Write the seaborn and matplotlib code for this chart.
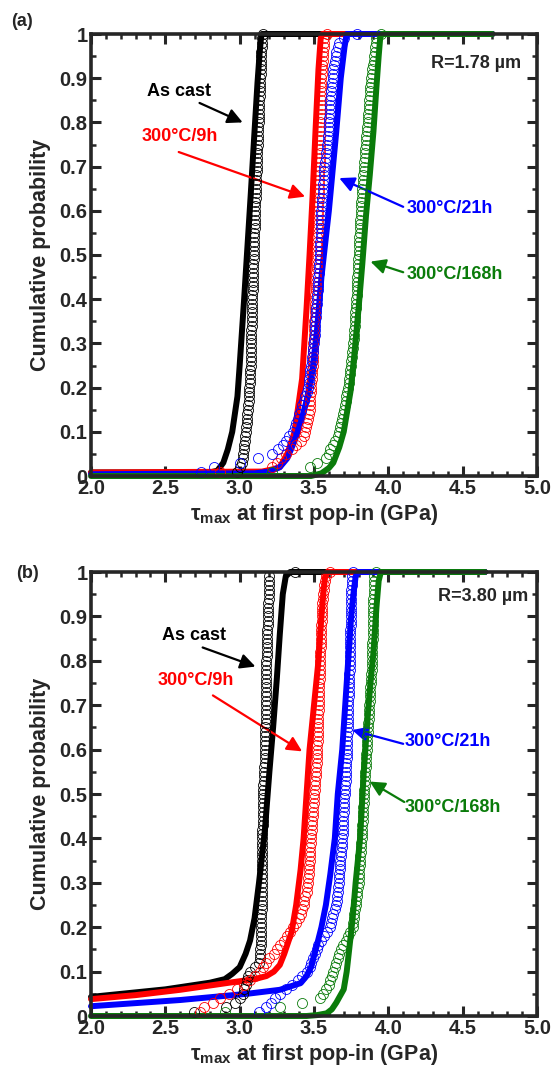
import matplotlib
matplotlib.use("Agg")
import matplotlib.pyplot as plt
import seaborn as sns
from matplotlib.ticker import MultipleLocator, FixedLocator, FixedFormatter

# ---------------- data ----------------
labels = ["As cast", "300°C/9h", "300°C/21h", "300°C/168h"]
colors = ["#000000", "#FF0000", "#0000FF", "#0A7B0A"]

# panel (a), R = 1.78 um : tau_max at first pop-in (GPa), one value per indent
a_cast = [2.98, 3.00, 3.015, 3.02, 3.025, 3.028, 3.031, 3.034, 3.037, 3.040,
          3.043, 3.046, 3.049, 3.052, 3.055, 3.057, 3.060, 3.062, 3.064, 3.066,
          3.068, 3.070, 3.071, 3.072, 3.073, 3.073, 3.074, 3.075, 3.076, 3.077,
          3.077, 3.078, 3.079, 3.080, 3.081, 3.082, 3.082, 3.083, 3.084, 3.085,
          3.086, 3.087, 3.088, 3.089, 3.090, 3.091, 3.092, 3.093, 3.094, 3.095,
          3.096, 3.097, 3.098, 3.098, 3.099, 3.100, 3.101, 3.102, 3.103, 3.104,
          3.105, 3.106, 3.107, 3.108, 3.110, 3.111, 3.112, 3.113, 3.114, 3.115,
          3.116, 3.117, 3.118, 3.119, 3.120, 3.122, 3.123, 3.125, 3.126, 3.127,
          3.128, 3.129, 3.130, 3.131, 3.132, 3.134, 3.135, 3.137, 3.138, 3.140,
          3.141, 3.142, 3.143, 3.144, 3.145, 3.146, 3.147, 3.148, 3.150, 3.160]
a_9h = [2.87, 3.22, 3.25, 3.28, 3.31, 3.35, 3.38, 3.41, 3.43, 3.44,
        3.446, 3.452, 3.458, 3.464, 3.470, 3.472, 3.474, 3.476, 3.478, 3.480,
        3.482, 3.484, 3.486, 3.488, 3.490, 3.491, 3.492, 3.494, 3.495, 3.496,
        3.497, 3.499, 3.500, 3.501, 3.502, 3.504, 3.505, 3.506, 3.507, 3.509,
        3.510, 3.511, 3.512, 3.514, 3.515, 3.516, 3.517, 3.518, 3.519, 3.520,
        3.521, 3.522, 3.522, 3.523, 3.524, 3.525, 3.526, 3.527, 3.528, 3.529,
        3.530, 3.530, 3.531, 3.532, 3.533, 3.534, 3.535, 3.535, 3.536, 3.537,
        3.537, 3.538, 3.539, 3.539, 3.540, 3.541, 3.541, 3.542, 3.543, 3.543,
        3.544, 3.545, 3.545, 3.546, 3.547, 3.547, 3.548, 3.549, 3.549, 3.550,
        3.552, 3.554, 3.556, 3.558, 3.560, 3.562, 3.564, 3.567, 3.570, 3.590]
a_21h = [2.74, 2.83, 3.00, 3.12, 3.22, 3.26, 3.29, 3.31, 3.33, 3.36,
         3.37, 3.38, 3.39, 3.40, 3.41, 3.42, 3.43, 3.44, 3.45, 3.46,
         3.464, 3.468, 3.472, 3.476, 3.480, 3.484, 3.488, 3.492, 3.496, 3.500,
         3.502, 3.504, 3.506, 3.508, 3.510, 3.512, 3.514, 3.516, 3.518, 3.520,
         3.522, 3.524, 3.526, 3.528, 3.530, 3.532, 3.534, 3.536, 3.538, 3.540,
         3.541, 3.542, 3.543, 3.544, 3.545, 3.546, 3.547, 3.548, 3.549, 3.550,
         3.552, 3.554, 3.556, 3.558, 3.560, 3.562, 3.564, 3.566, 3.568, 3.570,
         3.574, 3.578, 3.582, 3.585, 3.589, 3.592, 3.596, 3.600, 3.601, 3.603,
         3.604, 3.606, 3.607, 3.609, 3.610, 3.613, 3.616, 3.619, 3.622, 3.625,
         3.627, 3.630, 3.635, 3.640, 3.645, 3.650, 3.660, 3.670, 3.700, 3.790]
a_168h = [3.22, 3.47, 3.52, 3.58, 3.60, 3.61, 3.63, 3.64, 3.66, 3.67,
          3.676, 3.682, 3.688, 3.694, 3.700, 3.706, 3.712, 3.718, 3.724, 3.730,
          3.734, 3.737, 3.741, 3.744, 3.748, 3.751, 3.755, 3.758, 3.762, 3.765,
          3.767, 3.769, 3.771, 3.773, 3.775, 3.777, 3.779, 3.781, 3.783, 3.785,
          3.786, 3.788, 3.789, 3.791, 3.792, 3.794, 3.795, 3.797, 3.798, 3.800,
          3.801, 3.803, 3.804, 3.806, 3.807, 3.809, 3.810, 3.812, 3.813, 3.815,
          3.817, 3.819, 3.821, 3.823, 3.825, 3.827, 3.829, 3.831, 3.833, 3.835,
          3.837, 3.840, 3.842, 3.845, 3.847, 3.850, 3.852, 3.855, 3.857, 3.860,
          3.862, 3.865, 3.867, 3.870, 3.872, 3.875, 3.877, 3.880, 3.882, 3.885,
          3.889, 3.893, 3.897, 3.901, 3.905, 3.909, 3.913, 3.917, 3.920, 3.950]

# panel (a) fitted curves
fit_a_cast_x = [2.0, 2.80, 2.85, 2.89, 2.92, 2.95, 2.985, 3.00, 3.03, 3.06, 3.075, 3.10, 3.12, 3.135, 3.145, 3.15, 4.70]
fit_a_cast_y = [0.008, 0.008, 0.012, 0.03, 0.06, 0.10, 0.18, 0.25, 0.40, 0.56, 0.64, 0.78, 0.89, 0.96, 0.995, 1.0, 1.0]
fit_a_9h_x = [2.0, 3.15, 3.22, 3.27, 3.32, 3.37, 3.42, 3.45, 3.47, 3.49, 3.51, 3.53, 3.545, 3.555, 4.70]
fit_a_9h_y = [0.008, 0.01, 0.015, 0.02, 0.05, 0.10, 0.22, 0.38, 0.50, 0.63, 0.78, 0.92, 0.99, 1.0, 1.0]
fit_a_21h_x = [2.0, 3.10, 3.20, 3.27, 3.32, 3.37, 3.41, 3.45, 3.49, 3.52, 3.55, 3.60, 3.65, 3.68, 3.705, 3.72, 4.70]
fit_a_21h_y = [0.004, 0.006, 0.01, 0.02, 0.04, 0.08, 0.12, 0.17, 0.24, 0.33, 0.45, 0.60, 0.78, 0.90, 0.97, 1.0, 1.0]
fit_a_168h_x = [2.0, 3.48, 3.55, 3.60, 3.63, 3.67, 3.70, 3.745, 3.77, 3.80, 3.825, 3.85, 3.875, 3.90, 3.92, 3.935, 3.945, 3.955, 4.70]
fit_a_168h_y = [0.0, 0.0, 0.006, 0.018, 0.03, 0.065, 0.10, 0.19, 0.27, 0.38, 0.48, 0.59, 0.68, 0.78, 0.88, 0.95, 0.99, 1.0, 1.0]

# panel (b), R = 3.80 um
b_cast = [2.69, 2.91, 2.97, 3.00, 3.02, 3.03, 3.04, 3.05, 3.055, 3.07,
          3.10, 3.13, 3.138, 3.139, 3.140, 3.141, 3.142, 3.143, 3.144, 3.145,
          3.145, 3.146, 3.146, 3.147, 3.147, 3.148, 3.148, 3.149, 3.149, 3.150,
          3.150, 3.150, 3.151, 3.151, 3.151, 3.152, 3.152, 3.152, 3.153, 3.153,
          3.153, 3.153, 3.154, 3.154, 3.154, 3.154, 3.155, 3.155, 3.155, 3.155,
          3.157, 3.159, 3.161, 3.163, 3.165, 3.166, 3.168, 3.170, 3.170, 3.171,
          3.171, 3.172, 3.172, 3.173, 3.173, 3.174, 3.174, 3.175, 3.175, 3.176,
          3.176, 3.177, 3.177, 3.178, 3.178, 3.179, 3.179, 3.180, 3.180, 3.180,
          3.181, 3.182, 3.183, 3.184, 3.185, 3.186, 3.187, 3.188, 3.189, 3.190,
          3.191, 3.192, 3.193, 3.194, 3.195, 3.196, 3.197, 3.198, 3.200, 3.370]
b_9h = [2.73, 2.76, 2.82, 2.87, 2.93, 2.98, 3.03, 3.07, 3.10, 3.14,
        3.16, 3.18, 3.20, 3.23, 3.25, 3.27, 3.30, 3.32, 3.34, 3.36,
        3.38, 3.40, 3.41, 3.42, 3.43, 3.435, 3.44, 3.45, 3.455, 3.46,
        3.462, 3.464, 3.466, 3.468, 3.470, 3.472, 3.474, 3.476, 3.478, 3.480,
        3.482, 3.484, 3.487, 3.489, 3.491, 3.493, 3.496, 3.498, 3.500, 3.502,
        3.504, 3.507, 3.509, 3.511, 3.513, 3.515, 3.518, 3.520, 3.521, 3.522,
        3.523, 3.524, 3.525, 3.526, 3.527, 3.528, 3.529, 3.530, 3.531, 3.531,
        3.532, 3.533, 3.534, 3.535, 3.536, 3.537, 3.538, 3.539, 3.540, 3.540,
        3.541, 3.543, 3.544, 3.545, 3.547, 3.548, 3.549, 3.550, 3.551, 3.553,
        3.554, 3.555, 3.557, 3.558, 3.560, 3.565, 3.570, 3.575, 3.580, 3.610]
b_21h = [3.13, 3.18, 3.21, 3.24, 3.27, 3.31, 3.35, 3.39, 3.42, 3.45,
         3.47, 3.48, 3.49, 3.51, 3.52, 3.53, 3.55, 3.57, 3.59, 3.61,
         3.617, 3.624, 3.631, 3.638, 3.645, 3.652, 3.656, 3.660, 3.663, 3.665,
         3.668, 3.670, 3.673, 3.675, 3.678, 3.680, 3.683, 3.685, 3.688, 3.690,
         3.692, 3.693, 3.695, 3.697, 3.698, 3.700, 3.702, 3.703, 3.705, 3.707,
         3.708, 3.710, 3.712, 3.713, 3.715, 3.717, 3.718, 3.720, 3.721, 3.722,
         3.723, 3.724, 3.725, 3.726, 3.727, 3.728, 3.729, 3.730, 3.731, 3.731,
         3.732, 3.733, 3.734, 3.735, 3.736, 3.737, 3.738, 3.739, 3.740, 3.740,
         3.741, 3.742, 3.742, 3.743, 3.744, 3.744, 3.745, 3.746, 3.746, 3.747,
         3.748, 3.748, 3.749, 3.750, 3.751, 3.752, 3.753, 3.754, 3.755, 3.760]
b_168h = [2.90, 3.27, 3.42, 3.54, 3.56, 3.58, 3.60, 3.61, 3.62, 3.63,
          3.64, 3.65, 3.66, 3.67, 3.68, 3.696, 3.712, 3.728, 3.744, 3.760,
          3.764, 3.768, 3.772, 3.776, 3.780, 3.784, 3.788, 3.792, 3.796, 3.800,
          3.802, 3.804, 3.806, 3.808, 3.810, 3.812, 3.814, 3.816, 3.818, 3.820,
          3.822, 3.823, 3.825, 3.827, 3.828, 3.830, 3.832, 3.833, 3.835, 3.837,
          3.838, 3.840, 3.842, 3.843, 3.845, 3.847, 3.848, 3.850, 3.852, 3.854,
          3.856, 3.857, 3.859, 3.861, 3.863, 3.865, 3.867, 3.869, 3.870, 3.872,
          3.874, 3.876, 3.878, 3.880, 3.881, 3.883, 3.885, 3.887, 3.889, 3.890,
          3.891, 3.892, 3.892, 3.893, 3.894, 3.894, 3.895, 3.896, 3.896, 3.897,
          3.898, 3.898, 3.899, 3.900, 3.901, 3.902, 3.903, 3.904, 3.905, 3.920]

# panel (b) fitted curves
fit_b_cast_x = [2.0, 2.5, 2.8, 2.9, 2.95, 3.0, 3.04, 3.07, 3.10, 3.13, 3.17, 3.20, 3.225, 3.25, 3.27, 3.29, 3.31, 3.34, 4.65]
fit_b_cast_y = [0.043, 0.06, 0.075, 0.083, 0.095, 0.11, 0.14, 0.17, 0.22, 0.30, 0.42, 0.55, 0.65, 0.76, 0.86, 0.95, 0.99, 1.0, 1.0]
fit_b_9h_x = [2.0, 2.3, 2.6, 2.93, 3.10, 3.18, 3.23, 3.27, 3.30, 3.33, 3.35, 3.38, 3.41, 3.43, 3.45, 3.47, 3.50, 3.53, 3.55, 3.565, 3.575, 3.59, 4.65]
fit_b_9h_y = [0.038, 0.047, 0.059, 0.075, 0.083, 0.09, 0.10, 0.115, 0.14, 0.17, 0.19, 0.25, 0.33, 0.40, 0.50, 0.60, 0.70, 0.80, 0.90, 0.96, 0.99, 1.0, 1.0]
fit_b_21h_x = [2.0, 2.6, 3.05, 3.27, 3.41, 3.45, 3.48, 3.52, 3.55, 3.58, 3.61, 3.64, 3.66, 3.69, 3.71, 3.73, 3.75, 3.765, 3.78, 3.80, 4.65]
fit_b_21h_y = [0.022, 0.036, 0.05, 0.059, 0.074, 0.09, 0.11, 0.16, 0.20, 0.25, 0.32, 0.40, 0.50, 0.60, 0.70, 0.80, 0.90, 0.95, 0.99, 1.0, 1.0]
fit_b_168h_x = [2.0, 3.45, 3.52, 3.585, 3.62, 3.65, 3.70, 3.72, 3.74, 3.76, 3.78, 3.81, 3.835, 3.86, 3.88, 3.90, 3.92, 3.935, 3.95, 4.65]
fit_b_168h_y = [0.0, 0.0, 0.002, 0.006, 0.015, 0.03, 0.06, 0.10, 0.16, 0.22, 0.30, 0.40, 0.55, 0.67, 0.75, 0.82, 0.92, 0.98, 1.0, 1.0]

y_ticks = [0, 0.1, 0.2, 0.3, 0.4, 0.5, 0.6, 0.7, 0.8, 0.9, 1]
y_ticklabels = ["0", "0.1", "0.2", "0.3", "0.4", "0.5", "0.6", "0.7", "0.8", "0.9", "1"]
x_ticks = [2.0, 2.5, 3.0, 3.5, 4.0, 4.5, 5.0]
x_ticklabels = ["2.0", "2.5", "3.0", "3.5", "4.0", "4.5", "5.0"]

# ---------------- style ----------------
sns.set_style("ticks")
plt.rcParams["font.family"] = ["Liberation Sans", "DejaVu Sans"]
plt.rcParams["font.weight"] = "bold"
plt.rcParams["axes.labelweight"] = "bold"
plt.rcParams["mathtext.fontset"] = "custom"
plt.rcParams["mathtext.rm"] = "Liberation Sans:bold"
plt.rcParams["mathtext.bf"] = "Liberation Sans:bold"
plt.rcParams["mathtext.it"] = "Liberation Sans:bold"

fig = plt.figure(figsize=(5.54, 10.69), dpi=100)
ax_a = fig.add_axes([91 / 554, 1 - 476 / 1069, 446 / 554, 442 / 1069])
ax_b = fig.add_axes([91 / 554, 1 - 1016 / 1069, 446 / 554, 444 / 1069])


def draw_panel(ax, samples, fits, notes, r_text, r_pos):
    # fitted curves
    for (fx, fy), c in zip(fits, colors):
        sns.lineplot(x=fx, y=fy, ax=ax, color=c, lw=4.3, sort=False,
                     estimator=None, legend=False, clip_on=False, zorder=3)
    # measured points: empirical cumulative probability as open circles
    for vals, c in zip(samples, colors):
        sns.ecdfplot(x=vals, ax=ax, color=c, marker="o", linestyle="none",
                     markerfacecolor="none", markeredgecolor=c,
                     markeredgewidth=0.6, markersize=7.2, clip_on=False, zorder=4)

    for (txt, tpos, tail, head), c in zip(notes, colors):
        ax.text(tpos[0], tpos[1], txt, color=c, fontsize=13, fontweight="bold",
                ha="left", va="center")
        ax.annotate("", xy=head, xytext=tail,
                    arrowprops=dict(arrowstyle="-|>,head_length=0.6,head_width=0.3",
                                    color=c, lw=1.6, mutation_scale=15,
                                    shrinkA=0, shrinkB=0))
    ax.text(r_pos[0], r_pos[1], r_text, fontsize=13, fontweight="bold",
            ha="center", va="center")

    ax.set_xlim(2.0, 5.0)
    ax.set_ylim(0, 1)
    ax.xaxis.set_major_locator(FixedLocator(x_ticks))
    ax.xaxis.set_major_formatter(FixedFormatter(x_ticklabels))
    ax.xaxis.set_minor_locator(MultipleLocator(0.1))
    ax.yaxis.set_major_locator(FixedLocator(y_ticks))
    ax.yaxis.set_major_formatter(FixedFormatter(y_ticklabels))
    ax.yaxis.set_minor_locator(MultipleLocator(0.05))
    ax.tick_params(which="major", direction="in", length=7, width=2.2,
                   top=True, right=True, labelsize=14.5, pad=2.5)
    ax.tick_params(which="minor", direction="in", length=3.5, width=1.8,
                   top=True, right=True)
    for lab in ax.get_xticklabels() + ax.get_yticklabels():
        lab.set_fontweight("bold")
    for sp in ax.spines.values():
        sp.set_linewidth(2.6)
        sp.set_zorder(5)
    ax.set_ylabel("Cumulative probability", fontsize=15.5, fontweight="bold")
    ax.yaxis.set_label_coords(-0.09, 0.5)
    ax.set_xlabel(r"τ$_{\mathbf{max}}$ at first pop-in (GPa)",
                  fontsize=15.5, fontweight="bold")
    ax.xaxis.set_label_coords(0.5, -0.058)


notes_a = [
    (labels[0], (2.377, 0.869), (2.73, 0.844), (3.02, 0.80)),
    (labels[1], (2.343, 0.767), (2.59, 0.733), (3.44, 0.632)),
    (labels[2], (4.122, 0.606), (4.10, 0.609), (3.67, 0.674)),
    (labels[3], (4.122, 0.455), (4.10, 0.461), (3.88, 0.485)),
]
notes_b = [
    (labels[0], (2.478, 0.857), (2.751, 0.830), (3.106, 0.787)),
    (labels[1], (2.448, 0.756), (2.82, 0.722), (3.42, 0.596)),
    (labels[2], (4.107, 0.619), (4.10, 0.613), (3.757, 0.644)),
    (labels[3], (4.107, 0.469), (4.107, 0.482), (3.875, 0.528)),
]

draw_panel(ax_a, [a_cast, a_9h, a_21h, a_168h],
           [(fit_a_cast_x, fit_a_cast_y), (fit_a_9h_x, fit_a_9h_y),
            (fit_a_21h_x, fit_a_21h_y), (fit_a_168h_x, fit_a_168h_y)],
           notes_a, "R=1.78 µm", (4.59, 0.934))
draw_panel(ax_b, [b_cast, b_9h, b_21h, b_168h],
           [(fit_b_cast_x, fit_b_cast_y), (fit_b_9h_x, fit_b_9h_y),
            (fit_b_21h_x, fit_b_21h_y), (fit_b_168h_x, fit_b_168h_y)],
           notes_b, "R=3.80 µm", (4.64, 0.944))

fig.text(22 / 554, 1 - 21 / 1069, "(a)", fontsize=13, fontweight="bold",
         ha="center", va="center")
fig.text(28 / 554, 1 - 574 / 1069, "(b)", fontsize=13, fontweight="bold",
         ha="center", va="center")

fig.savefig("out.png", dpi=100)
